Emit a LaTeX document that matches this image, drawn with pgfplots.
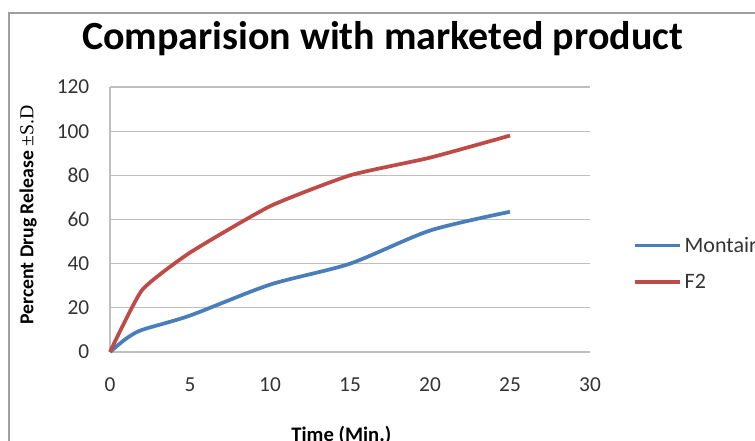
\documentclass[border=0pt]{standalone}
\usepackage{fontspec}
\setmainfont{Carlito}
\newfontfamily\serif{Liberation Serif}
\usepackage{pgfplots}
\pgfplotsset{compat=1.18}
\definecolor{xlblue}{HTML}{4A7EBB}
\definecolor{xlred}{HTML}{BE4B48}
\definecolor{gridgray}{HTML}{BFBFBF}
\begin{document}
\begin{tikzpicture}
% picture frame, 755x441 px at 0.75pt per px
\path[use as bounding box] (0,0) rectangle (566.25pt,330.75pt);
\draw[gray!75, line width=1pt] (6.75pt,-10pt) rectangle (600pt,321pt);
\node[anchor=base, font=\bfseries\fontsize{30}{33}\selectfont] at (286.9pt,293.25pt) {Comparision with marketed product};
\node[rotate=90, font=\bfseries\fontsize{14.8}{16}\selectfont] at (21pt,169.5pt) {Percent Drug Release {\serif\mdseries ±S.D}};
\node[anchor=north, inner sep=0pt, font=\bfseries\fontsize{15.5}{17}\selectfont] at (256pt,11.25pt) {Time (Min.)};
\begin{axis}[
  at={(82.5pt,66.75pt)}, anchor=origin,
  scale only axis,
  width=360pt, height=198.75pt,
  xmin=0, xmax=30, ymin=0, ymax=120,
  xtick={0,5,...,30}, ytick={0,20,...,120},
  axis x line*=bottom, axis y line*=left,
  axis line style={-, draw=gridgray, line width=0.9pt},
  major tick length=0pt,
  ymajorgrids, grid style={gridgray, line width=0.9pt},
  ticklabel style={font=\fontsize{16}{18}\selectfont, text=black!80},
  /pgf/number format/assume math mode=true,
  yticklabel style={xshift=-12pt},
  xticklabel style={yshift=-16pt},
  clip=false,
  legend style={at={(rel axis cs:1.0896,0.445)}, anchor=north west, draw=none, fill=none,
    font=\fontsize{16.5}{18}\selectfont, text=black!80, row sep=11pt, inner sep=0pt},
  legend cell align=left,
  legend image code/.code={\draw[#1] (0pt,0pt) -- (33.75pt,0pt);},
]
\addplot[xlblue, line width=2.8pt, smooth, tension=0.45] coordinates {
  (0,0) (1,6) (2,10) (5,16.5) (10,30.5) (15,40) (20,55) (25,63.5)
};
\addlegendentry{Montair}
\addplot[xlred, line width=2.8pt, smooth, tension=0.3] coordinates {
  (0,0) (2,28) (5,45) (10,66) (15,80) (20,88) (25,98)
};
\addlegendentry{F2}
\end{axis}
\end{tikzpicture}
\end{document}
